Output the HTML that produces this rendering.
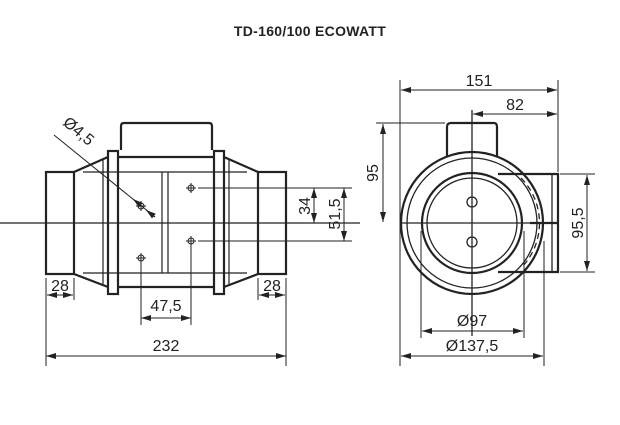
<!DOCTYPE html>
<html><head><style>
body{margin:0;background:#fff;width:620px;height:420px;overflow:hidden}
text{font-family:"Liberation Sans",sans-serif;fill:#222}
</style></head><body>
<svg width="620" height="420" viewBox="0 0 620 420" xmlns="http://www.w3.org/2000/svg">
<defs>
<marker id="a" viewBox="0 0 10 6" refX="10" refY="3" markerWidth="10" markerHeight="6" orient="auto-start-reverse" markerUnits="userSpaceOnUse"><path d="M0,0 L10,3 L0,6 z" fill="#222"/></marker>
</defs>
<text x="310" y="36" text-anchor="middle" font-size="14" font-weight="bold" style="letter-spacing:0.3px">TD-160/100 ECOWATT</text>

<g stroke="#222" fill="none">
<!-- LEFT VIEW -->
<g stroke-width="2.2">
<rect x="46" y="172" width="28" height="102"/>
<rect x="258" y="172" width="28" height="102"/>
<path d="M74,172 L108,157 M74,274 L108,287 M258,172 L224,157 M258,274 L224,287"/>
<rect x="108" y="151" width="10" height="143"/>
<rect x="214" y="151" width="10" height="143"/>
<path d="M118,157 H214 M118,287 H214"/>
<path d="M121,150 V126 Q121,123 124,123 H209 Q212,123 212,126 V150"/>
</g>
<g stroke-width="1.2">
<path d="M83,172 H247 M83,273 H247"/>
<path d="M103,160 V284 M162,172 V273 M168,172 V273 M229,160 V284"/>
<path d="M0,223 H360"/>
</g>
<g stroke-width="1">
<circle cx="191" cy="188" r="3"/><circle cx="191" cy="241" r="3"/>
<circle cx="141" cy="206" r="3"/><circle cx="141" cy="258" r="3"/>
<path d="M186,188 H196 M191,183 V193 M186,241 H196 M191,236 V246 M136,206 H146 M141,201 V211 M136,258 H146 M141,253 V263"/>
<path d="M198,188 H352 M198,241 H352"/>
<path d="M54,135 L155,217"/>
<path d="M138,203 L133,199" marker-end="url(#a)"/>
<path d="M155,217 L146,210" marker-end="url(#a)"/>
<path d="M314,223 V188" marker-start="url(#a)" marker-end="url(#a)"/>
<path d="M344,188 V241" marker-start="url(#a)" marker-end="url(#a)"/>
<path d="M46,278 V300 M74,278 V300 M258,278 V300 M286,278 V300"/>
<path d="M47,295 H73" marker-start="url(#a)" marker-end="url(#a)"/>
<path d="M259,295 H285" marker-start="url(#a)" marker-end="url(#a)"/>
<path d="M141,261 V325 M191,244 V325"/>
<path d="M141,318 H191" marker-start="url(#a)" marker-end="url(#a)"/>
<path d="M46,300 V366 M286,300 V366"/>
<path d="M46,356 H286" marker-start="url(#a)" marker-end="url(#a)"/>
</g>

<!-- RIGHT VIEW -->
<g stroke-width="2.2">
<circle cx="472" cy="223" r="71"/>
<circle cx="472" cy="223" r="50"/>
<path d="M447,157 V127 Q447,123 451,123 H494 Q497,123 497,127 V157"/>
<path d="M498,174 H558 V272 H498"/>
<path d="M530,223 H558"/>
</g>
<g stroke-width="1.3">
<circle cx="472" cy="223" r="65"/>
<circle cx="472" cy="223" r="45"/>
<circle cx="472" cy="202" r="5"/>
<circle cx="472" cy="242" r="5"/>
<path d="M552,174 V272"/>
<path d="M521,178 A64,64 0 0 1 521,268" stroke-dasharray="6,4"/>
<path d="M472,110 V336 M400,223 H552"/>
</g>
<g stroke-width="1">
<path d="M400,80 V366 M558,80 V172"/>
<path d="M401,90 H557" marker-start="url(#a)" marker-end="url(#a)"/>
<path d="M473,114 H557" marker-start="url(#a)" marker-end="url(#a)"/>
<path d="M376,123 H445"/>
<path d="M383,124 V222" marker-start="url(#a)" marker-end="url(#a)"/>
<path d="M560,174 H595 M560,272 H595"/>
<path d="M587,175 V271" marker-start="url(#a)" marker-end="url(#a)"/>
<path d="M421,231 V338 M524,231 V338"/>
<path d="M422,331 H523" marker-start="url(#a)" marker-end="url(#a)"/>
<path d="M544,241 V366"/>
<path d="M401,356 H543" marker-start="url(#a)" marker-end="url(#a)"/>
</g>
</g>

<g font-size="16">
<text x="0" y="0" transform="translate(62,124) rotate(40)">Ø4,5</text>
<text x="0" y="0" transform="translate(310,206) rotate(-90)" text-anchor="middle">34</text>
<text x="0" y="0" transform="translate(340,214) rotate(-90)" text-anchor="middle">51,5</text>
<text x="60" y="291" text-anchor="middle">28</text>
<text x="272" y="291" text-anchor="middle">28</text>
<text x="166" y="311" text-anchor="middle">47,5</text>
<text x="166" y="351" text-anchor="middle">232</text>
<text x="479" y="86" text-anchor="middle">151</text>
<text x="515" y="110" text-anchor="middle">82</text>
<text x="0" y="0" transform="translate(378,173) rotate(-90)" text-anchor="middle">95</text>
<text x="0" y="0" transform="translate(583,223) rotate(-90)" text-anchor="middle">95,5</text>
<text x="472" y="326" text-anchor="middle">Ø97</text>
<text x="472" y="351" text-anchor="middle">Ø137,5</text>
</g>
</svg>
</body></html>
